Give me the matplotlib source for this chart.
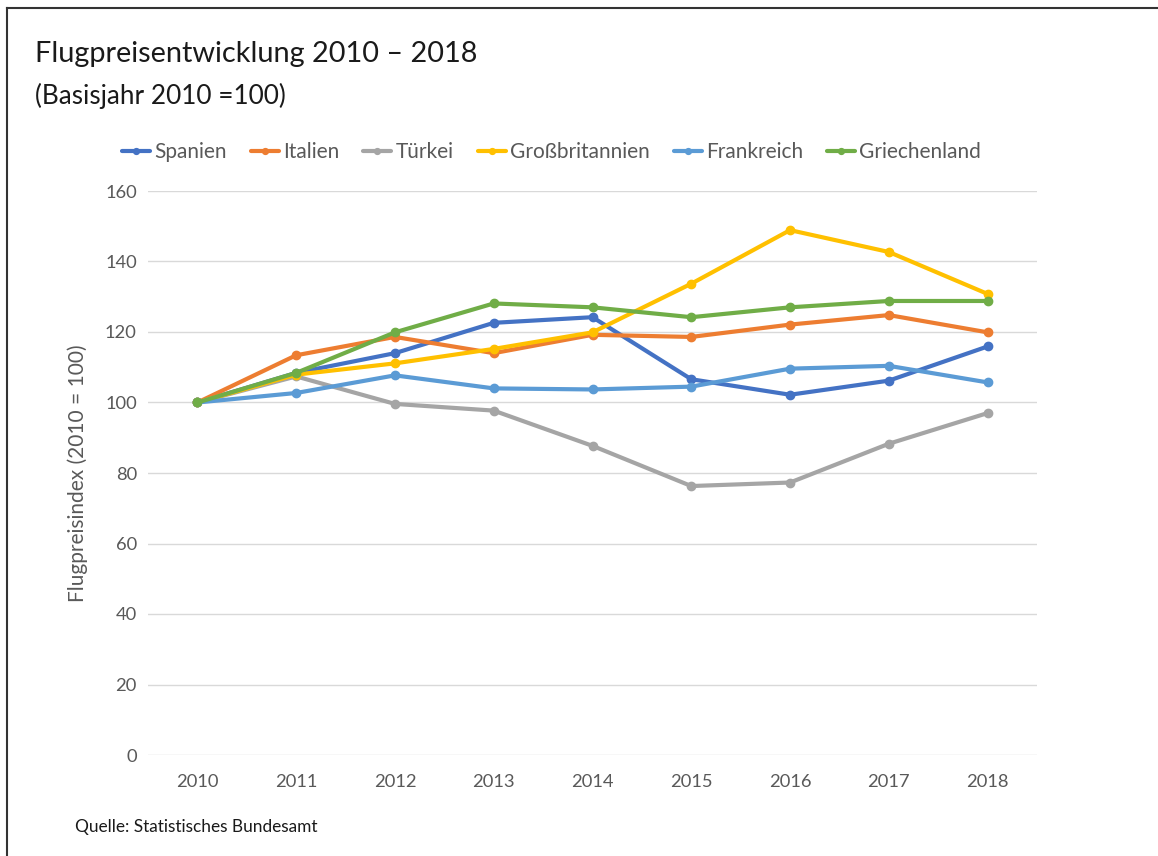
import matplotlib
matplotlib.use("Agg")
import matplotlib.pyplot as plt
from matplotlib.lines import Line2D

plt.rcParams['font.family'] = ['Lato', 'DejaVu Sans']

# Daten (Flugpreisindex, 2010 = 100)
jahre = [2010, 2011, 2012, 2013, 2014, 2015, 2016, 2017, 2018]
spanien = [100, 108.4, 114.0, 122.6, 124.2, 106.6, 102.2, 106.2, 115.9]
italien = [100, 113.4, 118.6, 114.0, 119.2, 118.6, 122.1, 124.8, 119.9]
tuerkei = [100, 107.4, 99.6, 97.7, 87.7, 76.3, 77.3, 88.3, 97.0]
grossbritannien = [100, 107.9, 111.1, 115.2, 119.9, 133.7, 148.9, 142.7, 130.8]
frankreich = [100, 102.7, 107.7, 104.0, 103.7, 104.5, 109.6, 110.4, 105.7]
griechenland = [100, 108.4, 119.9, 128.1, 127.0, 124.2, 127.0, 128.8, 128.8]

namen = ["Spanien", "Italien", "Türkei", "Großbritannien", "Frankreich", "Griechenland"]
reihen = [spanien, italien, tuerkei, grossbritannien, frankreich, griechenland]
farben = ["#4472C4", "#ED7D31", "#A5A5A5", "#FFC000", "#5B9BD5", "#70AD47"]
yticks = [0, 20, 40, 60, 80, 100, 120, 140, 160]

grau = "#595959"

fig = plt.figure(figsize=(11.58, 8.56), dpi=100)
ax = fig.add_axes((148 / 1158, 101 / 856, 889 / 1158, 564 / 856))

for name, werte, farbe in zip(namen, reihen, farben):
    ax.plot(jahre, werte, color=farbe, lw=3, marker='o', markersize=6,
            label=name, solid_capstyle='round')

ax.set_xlim(2009.5, 2018.5)
ax.set_ylim(0, 160)
ax.set_yticks(yticks)
ax.set_xticks(jahre)
ax.grid(axis='y', color='#d9d9d9', lw=1)
ax.set_axisbelow(True)
for s in ['top', 'right', 'left', 'bottom']:
    ax.spines[s].set_visible(False)
ax.tick_params(length=0, colors=grau, labelsize=13.2)
ax.tick_params(axis='x', pad=14)
ax.tick_params(axis='y', pad=8)
ax.set_ylabel("Flugpreisindex (2010 = 100)", color=grau, fontsize=15, labelpad=12)

fig.legend(*ax.get_legend_handles_labels(), loc='center left',
           bbox_to_anchor=(122 / 1158, 1 - 152 / 856), ncol=6, frameon=False,
           fontsize=15, labelcolor=grau, handlelength=1.35, handletextpad=0.2,
           columnspacing=1.15, markerscale=0.7, borderpad=0, borderaxespad=0)

fig.text(35 / 1158, 1 - 54 / 856, "Flugpreisentwicklung 2010 – 2018", fontsize=20.8,
         va='center', ha='left', color='#1a1a1a')
fig.text(35 / 1158, 1 - 96 / 856, "(Basisjahr 2010 =100)", fontsize=18.8,
         va='center', ha='left', color='#1a1a1a')
fig.text(75 / 1158, 1 - 827 / 856, "Quelle: Statistisches Bundesamt", fontsize=12.4,
         va='center', ha='left', color='#1a1a1a')

# Rahmen oben und links
fig.add_artist(Line2D([7 / 1158, 7 / 1158], [0, 1 - 8 / 856], color='#333333', lw=1.5))
fig.add_artist(Line2D([7 / 1158, 1], [1 - 8 / 856, 1 - 8 / 856], color='#333333', lw=1.5))

fig.savefig("out.png", dpi=100)
